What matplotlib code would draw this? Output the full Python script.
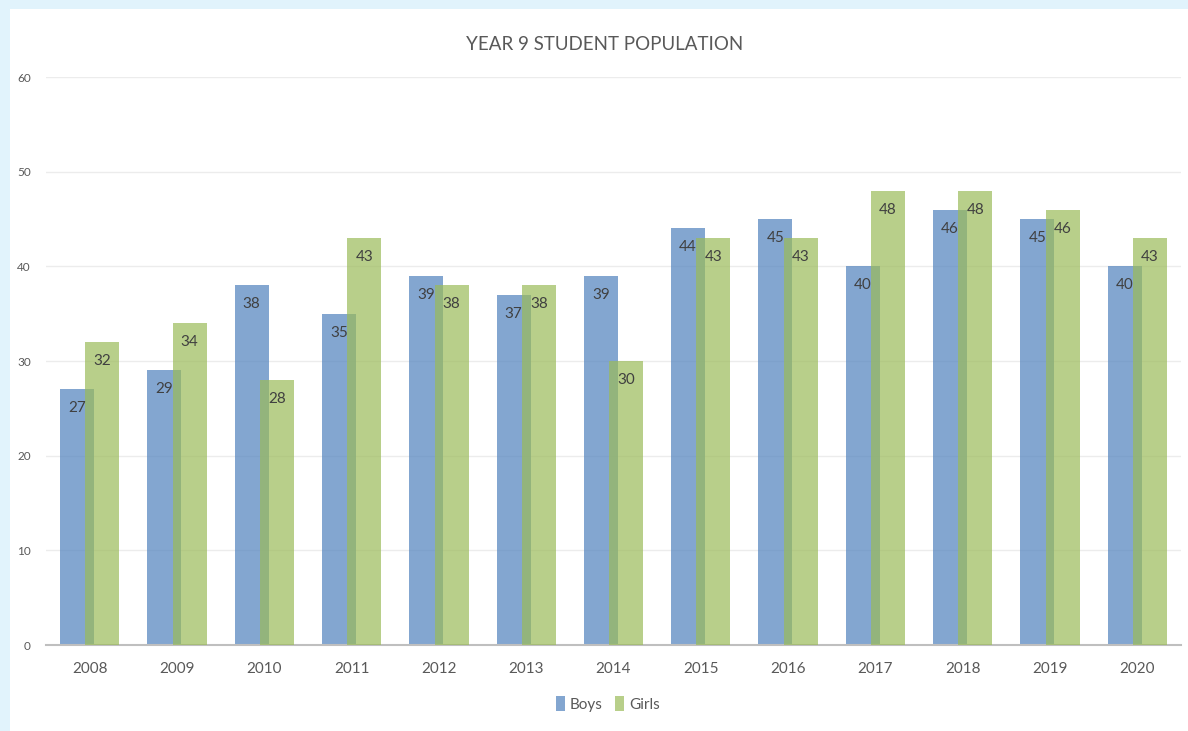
import matplotlib
matplotlib.use("Agg")
import matplotlib.pyplot as plt
from matplotlib.patches import Rectangle, Patch
import numpy as np

years = ["2008", "2009", "2010", "2011", "2012", "2013", "2014",
         "2015", "2016", "2017", "2018", "2019", "2020"]
boys = [27, 29, 38, 35, 39, 37, 39, 44, 45, 40, 46, 45, 40]
girls = [32, 34, 28, 43, 38, 38, 30, 43, 43, 48, 48, 46, 43]
y_ticks = [0, 10, 20, 30, 40, 50, 60]

plt.rcParams['font.family'] = ['Lato', 'DejaVu Sans']

W, H = 1188, 731
fig = plt.figure(figsize=(W / 100, H / 100), dpi=100)
fig.patch.set_facecolor('#e1f3fc')
bg = Rectangle((10 / W, 0), 1 - 10 / W, 1 - 9 / H,
               transform=fig.transFigure, facecolor='white',
               edgecolor='none', zorder=-10)
fig.patches.append(bg)

ax = fig.add_axes([46 / W, 1 - 645 / H, (1181 - 46) / W, (645 - 77) / H])
ax.set_facecolor('none')
ax.set_zorder(1)

x = np.arange(len(years))
w = 0.39
off = 0.145
b1 = ax.bar(x - off, boys, w, color='#4f81bd', alpha=0.7, zorder=2)
b2 = ax.bar(x + off, girls, w, color='#9bbb59', alpha=0.7, zorder=3)

for rects, vals in ((b1, boys), (b2, girls)):
    for r, v in zip(rects, vals):
        ax.annotate(str(v), (r.get_x() + r.get_width() / 2, v),
                    xytext=(0, -19), textcoords='offset pixels',
                    ha='center', va='center', fontsize=11,
                    color='#404040', zorder=5)

ax.set_xlim(-0.5, len(years) - 0.5)
ax.set_ylim(0, 60)
ax.set_yticks(y_ticks)
ax.set_xticks(x)
ax.set_xticklabels(years)
ax.tick_params(axis='y', length=0, pad=11, labelsize=8.5, labelcolor='#595959')
ax.tick_params(axis='x', length=0, pad=12, labelsize=11, labelcolor='#595959')
ax.grid(axis='y', color='#ececec', linewidth=1, zorder=0)
ax.set_axisbelow(True)
for s in ('top', 'right', 'left'):
    ax.spines[s].set_visible(False)
ax.spines['bottom'].set_color('#bfbfbf')
ax.spines['bottom'].set_linewidth(1.5)

fig.text(605 / W, 1 - 44 / H, "YEAR 9 STUDENT POPULATION", ha='center',
         va='center', fontsize=13.5, color='#595959')

handles = [Patch(facecolor='#4f81bd', alpha=0.7, label='Boys'),
           Patch(facecolor='#9bbb59', alpha=0.7, label='Girls')]
fig.legend(handles=handles, loc='center', bbox_to_anchor=(608 / W, 1 - 704 / H),
           ncol=2, frameon=False, fontsize=11, handlelength=0.6,
           handleheight=1.1, handletextpad=0.35, columnspacing=0.8,
           labelcolor='#595959')

fig.savefig('out.png', dpi=100, facecolor=fig.get_facecolor())
